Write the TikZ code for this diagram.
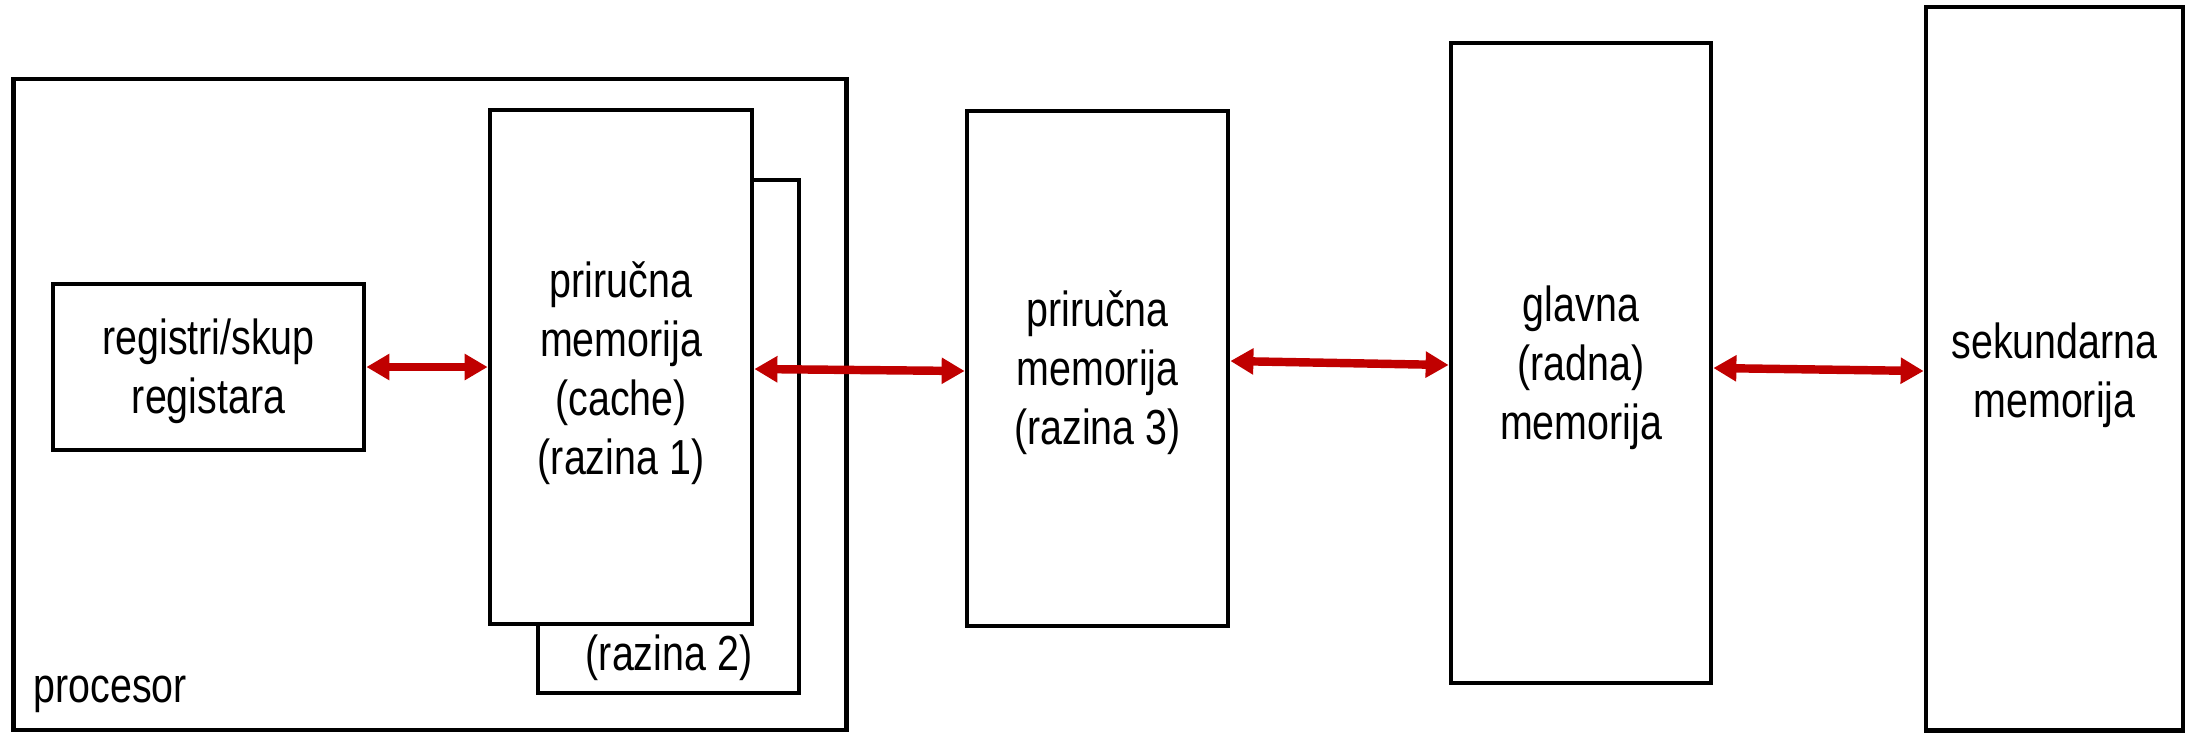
\documentclass[tikz,border=0pt]{standalone}
\usepackage{fontspec}
\setmainfont{Liberation Sans}[FakeStretch=0.8]
\usetikzlibrary{arrows.meta}
\definecolor{arrred}{RGB}{192,0,0}
\begin{document}
\begin{tikzpicture}[x=0.01cm,y=-0.01cm,
  box/.style={draw=black,line width=1.3pt,fill=white,inner sep=0pt},
  txt/.style={inner sep=0pt,align=center,yshift=-0.045cm,font=\fontsize{14}{16.8}\selectfont},
  lbl/.style={inner sep=0pt,font=\fontsize{14}{16.8}\selectfont},
  link/.style={draw=arrred,line width=2.4pt,{Triangle[width=0.25cm,length=0.23cm]}-{Triangle[width=0.25cm,length=0.23cm]}}]
\useasboundingbox (0,0) rectangle (2185,732);
\node[box,minimum width=8.32cm,minimum height=6.51cm] (proc) at (430,404.5) {};
\node[lbl,anchor=west] (proclbl) at (33,694) {procesor};
\node[box,minimum width=3.11cm,minimum height=1.66cm,label={[txt]center:registri/skup\\registara}] (reg) at (208.5,367) {};
\node[box,minimum width=2.61cm,minimum height=5.13cm] (l2) at (668.5,436.5) {};
\node[lbl] (l2lbl) at (669,658) {(razina 2)};
\node[box,minimum width=2.62cm,minimum height=5.14cm,label={[txt,yshift=-0.02cm]center:priručna\\memorija\\(cache)\\(razina 1)}] (l1) at (621,367) {};
\node[box,minimum width=2.61cm,minimum height=5.15cm,label={[txt]center:priručna\\memorija\\(razina 3)}] (l3) at (1097.5,368.5) {};
\node[box,minimum width=2.60cm,minimum height=6.40cm,label={[txt]center:glavna\\(radna)\\memorija}] (main) at (1581,363) {};
\node[box,minimum width=2.57cm,minimum height=7.23cm,label={[txt,yshift=-0.02cm]center:sekundarna\\memorija}] (sec) at (2054.5,368.5) {};
\draw[link] (reg.east) -- (reg.east -| l1.west);
\draw[link] ([yshift=-0.02cm]l1.east) -- ([yshift=-0.025cm]l3.west);
\draw[link] ([yshift=0.075cm]l3.east) -- ([yshift=-0.02cm]main.west);
\draw[link] ([yshift=-0.05cm]main.east) -- ([yshift=-0.025cm]sec.west);
\end{tikzpicture}
\end{document}
